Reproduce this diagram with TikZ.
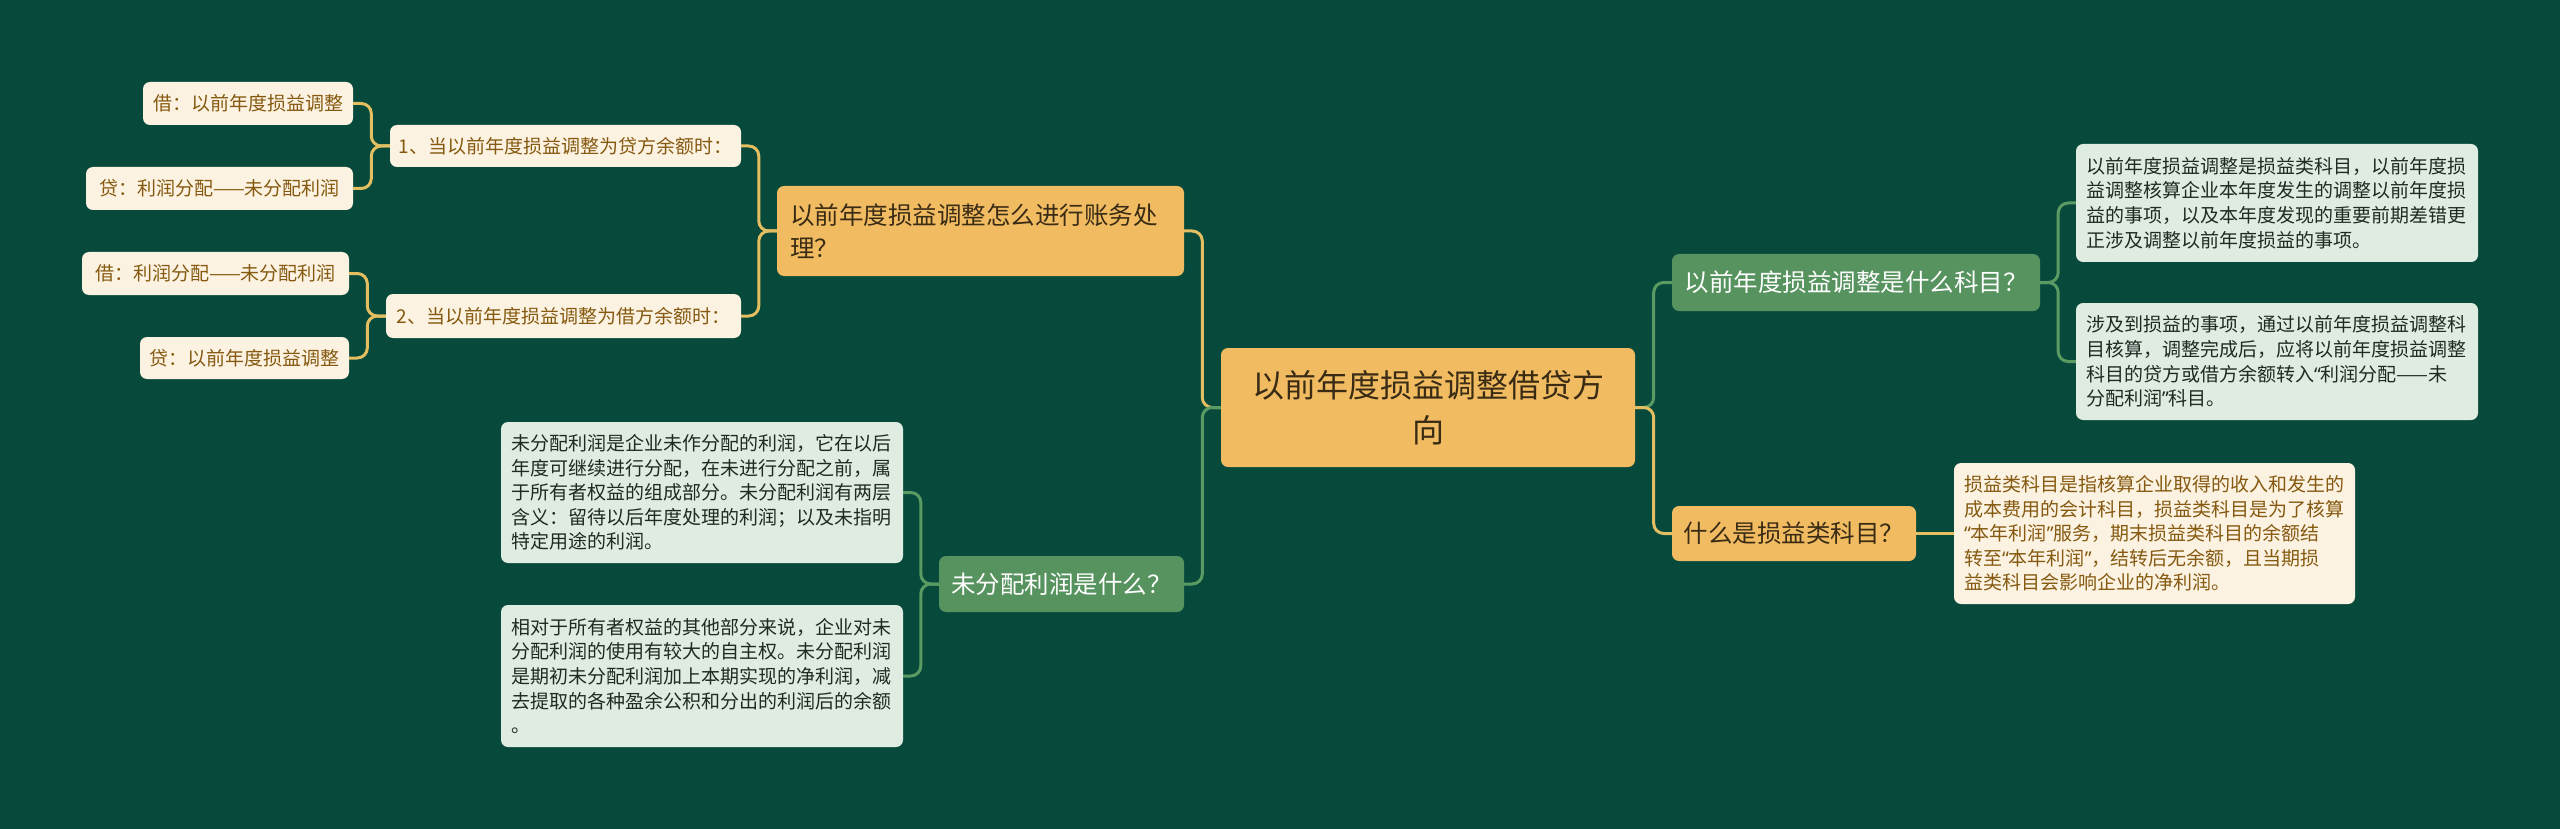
\documentclass[tikz,border=0pt]{standalone}
\usepackage{fontspec}
\setmainfont{Noto Sans CJK SC}
\newfontfamily\latinq{Noto Sans}
\newcommand{\myLQ}{{\latinq “}}
\newcommand{\myRQ}{{\latinq ”}}
\usetikzlibrary{calc}
\definecolor{bg}{HTML}{07493A}
\definecolor{orangefill}{HTML}{F1BB62}
\definecolor{orangetext}{HTML}{3A2C14}
\definecolor{greenfill}{HTML}{56935F}
\definecolor{lightfill}{HTML}{DFECE2}
\definecolor{lighttext}{HTML}{1E2A22}
\definecolor{creamfill}{HTML}{FCF2E2}
\definecolor{creamtext}{HTML}{85590F}
\definecolor{goldline}{HTML}{E3BF62}
\definecolor{greenline}{HTML}{5A9B64}
\begin{document}
\begin{tikzpicture}[x=1pt,y=-1pt,
  base/.style={rounded corners=7pt, inner sep=0pt, anchor=center},
  rootbox/.style={base, fill=orangefill, text=orangetext, font=\fontsize{32}{45}\selectfont, align=center},
  orangebox/.style={base, fill=orangefill, text=orangetext, font=\fontsize{24.5}{33}\selectfont},
  greenbox/.style={base, fill=greenfill, text=white, font=\fontsize{24.5}{33}\selectfont},
  creambox/.style={base, fill=creamfill, text=creamtext, font=\fontsize{19}{24.6}\selectfont},
  lightpara/.style={base, fill=lightfill, text=lighttext, font=\fontsize{19}{24.6}\selectfont, align=left, inner xsep=10pt, text width=382pt},
  creampara/.style={base, fill=creamfill, text=creamtext, font=\fontsize{19}{24.6}\selectfont, align=left, inner xsep=10pt, text width=381pt},
  goldlink/.style={draw=goldline, line width=3pt, rounded corners=10pt},
  greenlink/.style={draw=greenline, line width=3pt, rounded corners=10pt}]
\useasboundingbox (0,0) rectangle (2560,829);
\fill[bg] (0,0) rectangle (2560,829);

% root
\node[rootbox, minimum width=414pt, minimum height=119pt] (root) at (1428,407.5) {以前年度损益调整借贷方\\向};

% left branch 1
\node[orangebox, align=left, inner xsep=13pt, text width=381pt, minimum height=90pt] (b1) at (980.5,231) {以前年度损益调整怎么进行账务处\\理？};
\node[creambox, minimum width=351pt, minimum height=42pt] (s1) at (565.5,146) {1、当以前年度损益调整为贷方余额时：};
\node[creambox, minimum width=355pt, minimum height=44pt] (s2) at (563.5,316) {2、当以前年度损益调整为借方余额时：};
\node[creambox, minimum width=210pt, minimum height=43pt] (l1) at (248,103.5) {借：以前年度损益调整};
\node[creambox, minimum width=267pt, minimum height=43pt] (l2) at (219.5,188.5) {贷：利润分配——未分配利润};
\node[creambox, minimum width=267pt, minimum height=43pt] (l3) at (215.5,273.5) {借：利润分配——未分配利润};
\node[creambox, minimum width=209pt, minimum height=42pt] (l4) at (244.5,358) {贷：以前年度损益调整};

% left branch 2
\node[greenbox, minimum width=245pt, minimum height=56pt] (b2) at (1061.5,584) {未分配利润是什么？};
\node[lightpara, minimum height=141pt] (t1) at (702,492.5) {未分配利润是企业未作分配的利润，它在以后\\年度可继续进行分配，在未进行分配之前，属\\于所有者权益的组成部分。未分配利润有两层\\含义：留待以后年度处理的利润；以及未指明\\特定用途的利润。};
\node[lightpara, minimum height=142pt] (t2) at (702,676) {相对于所有者权益的其他部分来说，企业对未\\分配利润的使用有较大的自主权。未分配利润\\是期初未分配利润加上本期实现的净利润，减\\去提取的各种盈余公积和分出的利润后的余额\\。};

% right branch 1
\node[greenbox, minimum width=368pt, minimum height=57pt] (b3) at (1856,282.5) {以前年度损益调整是什么科目？};
\node[lightpara, minimum height=118pt] (r1) at (2277,203) {以前年度损益调整是损益类科目，以前年度损\\益调整核算企业本年度发生的调整以前年度损\\益的事项，以及本年度发现的重要前期差错更\\正涉及调整以前年度损益的事项。};
\node[lightpara, minimum height=117pt] (r2) at (2277,361.5) {涉及到损益的事项，通过以前年度损益调整科\\目核算，调整完成后，应将以前年度损益调整\\科目的贷方或借方余额转入\myLQ 利润分配——未\\分配利润\myRQ 科目。};

% right branch 2
\node[orangebox, minimum width=244pt, minimum height=55pt] (b4) at (1794,533.5) {什么是损益类科目？};
\node[creampara, minimum height=141pt] (r3) at (2154.5,533.5) {损益类科目是指核算企业取得的收入和发生的\\成本费用的会计科目，损益类科目是为了核算\\\myLQ 本年利润\myRQ 服务，期末损益类科目的余额结\\转至\myLQ 本年利润\myRQ ，结转后无余额，且当期损\\益类科目会影响企业的净利润。};

% connectors
\draw[goldlink] (root.west) -- ++(-18.5,0) |- (b1.east);
\draw[greenlink] (root.west) -- ++(-18.5,0) |- (b2.east);
\draw[goldlink] (b1.west) -- ++(-18,0) |- (s1.east);
\draw[goldlink] (b1.west) -- ++(-18,0) |- (s2.east);
\draw[goldlink] (s1.west) -- ++(-18.5,0) |- (l1.east);
\draw[goldlink] (s1.west) -- ++(-18.5,0) |- (l2.east);
\draw[goldlink] (s2.west) -- ++(-18.5,0) |- (l3.east);
\draw[goldlink] (s2.west) -- ++(-18.5,0) |- (l4.east);
\draw[greenlink] (b2.west) -- ++(-18,0) |- (t1.east);
\draw[greenlink] (b2.west) -- ++(-18,0) |- (t2.east);
\draw[greenlink] (root.east) -- ++(18.5,0) |- (b3.west);
\draw[goldlink] (root.east) -- ++(18.5,0) |- (b4.west);
\draw[greenlink] (b3.east) -- ++(18,0) |- (r1.west);
\draw[greenlink] (b3.east) -- ++(18,0) |- (r2.west);
\draw[goldlink] (b4.east) -- (r3.west);
\end{tikzpicture}
\end{document}
